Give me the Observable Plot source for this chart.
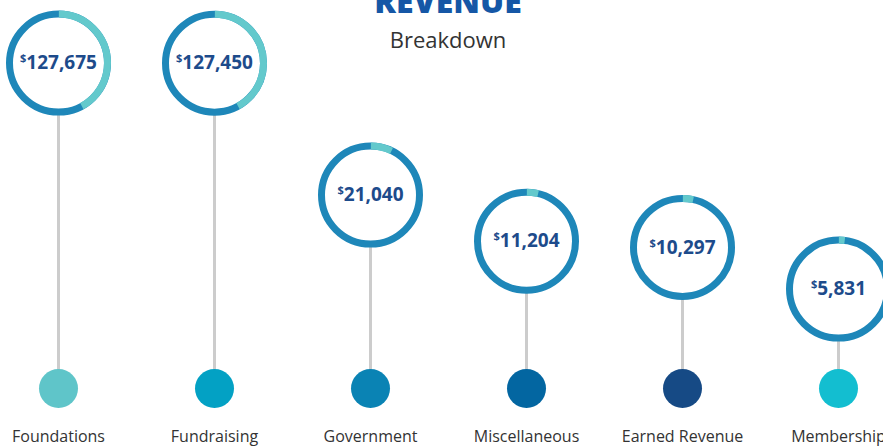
<!DOCTYPE html>
<html><head><meta charset="utf-8">
<script src="https://cdn.jsdelivr.net/npm/d3@7"></script>
<script src="https://cdn.jsdelivr.net/npm/@observablehq/plot@0.6"></script>
<style>body{margin:0;background:#fff;overflow:hidden;}</style>
</head><body><div id="chart"></div>
<script>
const categories = ["Foundations", "Fundraising", "Government", "Miscellaneous", "Earned Revenue", "Membership"];
const amounts = [127675, 127450, 21040, 11204, 10297, 5831];
const dotColors = ["#5fc5c9", "#03a1c4", "#0a83b4", "#0366a1", "#164a85", "#13bed0"];
const titleText = "REVENUE";
const subtitleText = "Breakdown";

const total = d3.sum(amounts);
const data = categories.map((c, i) => ({
  category: c,
  amount: amounts[i],
  share: amounts[i] / total,
  color: dotColors[i],
  label: "$" + d3.format(",")(amounts[i])
}));

const yDomain = [1500, 300000];
const R = 49;
const C = 2 * Math.PI * R;
const ringDark = "#1e87b9";
const ringTeal = "#63c9cc";
const font = "'Open Sans', sans-serif";

const arcMarks = data.map(d => Plot.dot([d], {
  x: "category", y: "amount", r: R, fill: "none", stroke: ringTeal, strokeWidth: 7,
  strokeDasharray: `${d.share * C} ${C - d.share * C}`, strokeDashoffset: C / 4
}));

const chart = Plot.plot({
  width: 883, height: 446,
  marginTop: 0, marginBottom: 58, marginLeft: 57, marginRight: 45,
  style: {fontFamily: font, background: "white"},
  x: {type: "point", domain: categories, padding: 0, axis: null},
  y: {type: "log", domain: yDomain, axis: null},
  marks: [
    Plot.ruleX(data, {x: "category", y1: "amount", y2: () => yDomain[0], stroke: "#cccccc", strokeWidth: 3}),
    Plot.dot(data, {x: "category", y: "amount", r: R, fill: "white", stroke: ringDark, strokeWidth: 7}),
    ...arcMarks,
    Plot.text(data, {x: "category", y: "amount", text: "label", fill: "#1d4b8b", fontSize: 19, fontWeight: 700, fontFamily: font, lineAnchor: "middle"}),
    Plot.dot(data, {x: "category", frameAnchor: "bottom", r: 19.5, fill: "color"}),
    Plot.text(data, {x: "category", text: "category", frameAnchor: "bottom", lineAnchor: "middle", dy: 48, fontSize: 16, fill: "#333333", fontFamily: font}),
    Plot.text([titleText], {frameAnchor: "top", lineAnchor: "middle", dy: 2, fontSize: 32, fontWeight: 900, fill: "#1557a6", fontFamily: font}),
    Plot.text([subtitleText], {frameAnchor: "top", lineAnchor: "middle", dy: 40, fontSize: 22, fill: "#333333", fontFamily: font})
  ]
});

const ns = "http://www.w3.org/2000/svg";
chart.querySelectorAll("text").forEach(t => {
  const s = t.textContent;
  if (!s.startsWith("$")) return;
  t.textContent = "";
  const a = document.createElementNS(ns, "tspan");
  a.textContent = s[0];
  a.setAttribute("font-size", 11);
  a.setAttribute("dy", "-7");
  const b = document.createElementNS(ns, "tspan");
  b.textContent = s.slice(1);
  b.setAttribute("dy", "7");
  t.append(a, b);
});

document.getElementById("chart").append(chart);
</script>
</body></html>
